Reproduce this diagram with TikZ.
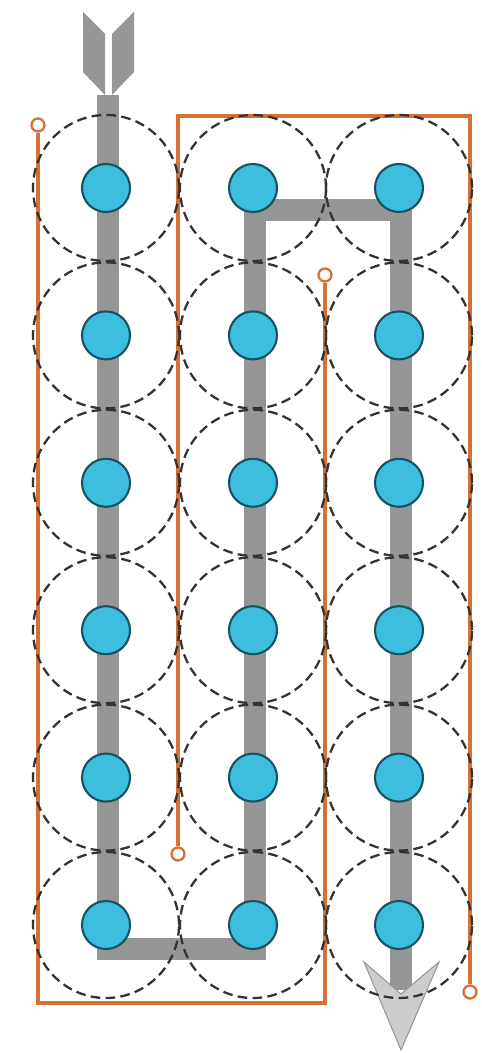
\documentclass[tikz,border=0pt]{standalone}
\usetikzlibrary{positioning,arrows.meta}
\definecolor{wire}{RGB}{214,112,52}
\definecolor{track}{RGB}{150,150,150}
\definecolor{headfill}{RGB}{205,205,205}
\definecolor{dotfill}{RGB}{62,190,222}
\definecolor{dotline}{RGB}{22,82,98}

\begin{document}
\begin{tikzpicture}[x=0.02cm,y=-0.02cm,
  zone/.style={circle,draw=black!80,dash pattern=on 5.5pt off 3pt,line width=1.3pt,minimum size=2.92cm,inner sep=0pt},
  dot/.style={circle,fill=dotfill,draw=dotline,line width=1.2pt,minimum size=0.96cm,inner sep=0pt},
  pin/.style={circle,draw=wire,fill=white,line width=1.3pt,minimum size=0.26cm,inner sep=0pt},
  wireline/.style={draw=wire,line width=2.3pt,line join=miter},
  trackline/.style={draw=track,line width=12.5pt,line join=miter}]

\useasboundingbox (0,0) rectangle (481,1053);

% orange wires
\node[pin] (pa) at (38,125) {};
\node[pin] (pb) at (325,275) {};
\node[pin] (pc) at (178,854) {};
\node[pin] (pd) at (470,992) {};
\coordinate (wa) at (38,1003);
\coordinate (wb) at (325,1003);
\coordinate (wc) at (178,116);
\coordinate (wd) at (470,116);
\draw[wireline] (pa) -- (wa) -- (wb) -- (pb);
\draw[wireline] (pc) -- (wc) -- (wd) -- (pd);

% grey track
\coordinate (tail) at (108,95);
\coordinate (bl) at (108,949);
\coordinate (br) at (255,949);
\coordinate (tl) at (255,210);
\coordinate (tr) at (401,210);
\coordinate (tip) at (401,990);
\draw[trackline] (tail) -- (bl) -- (br) -- (tl) -- (tr) -- (tip);
\fill[track] (83,12) -- (105,34) -- (105,95) -- (83,72) -- cycle;
\fill[track] (134,12) -- (112,34) -- (112,95) -- (134,72) -- cycle;
\filldraw[fill=headfill,draw=track,line width=0.6pt]
  (364,962) -- (401,994) -- (439,962) -- (401,1050) -- cycle;

% zones and dots
\foreach \c/\x in {1/106,2/253,3/399}{
  \foreach \r in {1,...,6}{
    \node[zone] (zone-\c-\r) at (\x,188+147.4*\r-147.4) {};
  }
}
\foreach \c/\x in {1/106,2/253,3/399}{
  \foreach \r in {1,...,6}{
    \node[dot] (dot-\c-\r) at (\x,188+147.4*\r-147.4) {};
  }
}

\end{tikzpicture}
\end{document}
